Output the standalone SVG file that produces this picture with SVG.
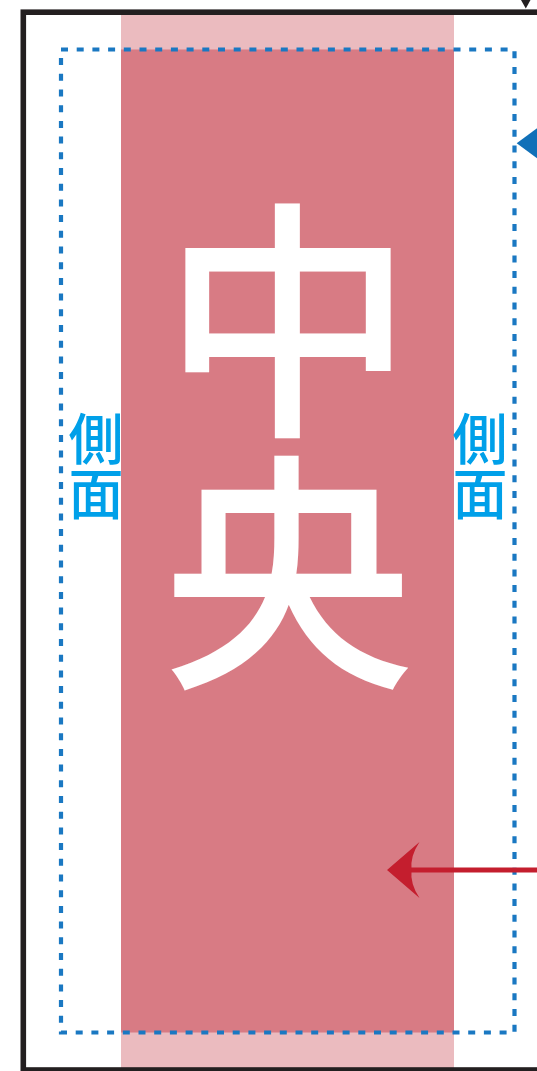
<svg xmlns="http://www.w3.org/2000/svg" width="537" height="1071" viewBox="0 0 537 1071">
<style>
.big{font-family:"Noto Sans CJK JP","Noto Sans CJK SC",sans-serif;font-size:252px;fill:#ffffff;text-anchor:middle;font-weight:500}
.side{font-family:"Noto Sans CJK JP","Noto Sans CJK SC",sans-serif;font-size:55px;fill:#00a0e9;text-anchor:middle;font-weight:500}
.dash{fill:none;stroke:#1a78c2;stroke-width:4.2;stroke-dasharray:7 8.7}
</style>
<rect width="537" height="1071" fill="#ffffff"/>
<g id="band">
<rect x="121" y="12" width="333" height="1058" fill="#ebbbbf"/>
<rect x="121" y="49.5" width="333" height="983" fill="#d87b84"/>
</g>
<g id="frame">
<rect x="23.3" y="12.2" width="540" height="1057.8" fill="none" stroke="#231f20" stroke-width="5.6"/>
</g>
<g id="area">
<rect class="dash" x="61" y="49.5" width="453.5" height="983"/>
</g>
<g id="center-label">
<text class="big" x="288" y="417">中</text>
<text class="big" x="288" y="669">央</text>
</g>
<g id="side-left">
<text class="side" x="96" y="459">側</text>
<text class="side" x="96" y="514">面</text>
</g>
<g id="side-right">
<text class="side" x="480" y="459">側</text>
<text class="side" x="480" y="514">面</text>
</g>
<g id="connectors">
<polygon points="521,0 530.5,0 525.8,8.5" fill="#231f20"/>
<polygon points="516.7,143.3 540,126.1 540,160.5" fill="#1070b8"/>
<line x1="540" y1="870" x2="408" y2="870" stroke="#c41e2e" stroke-width="4.8"/>
<path d="M387,870 L419.5,842 Q410,856 411.5,870 Q410,884 419.5,898 Z" fill="#c41e2e"/>
</g>
</svg>
